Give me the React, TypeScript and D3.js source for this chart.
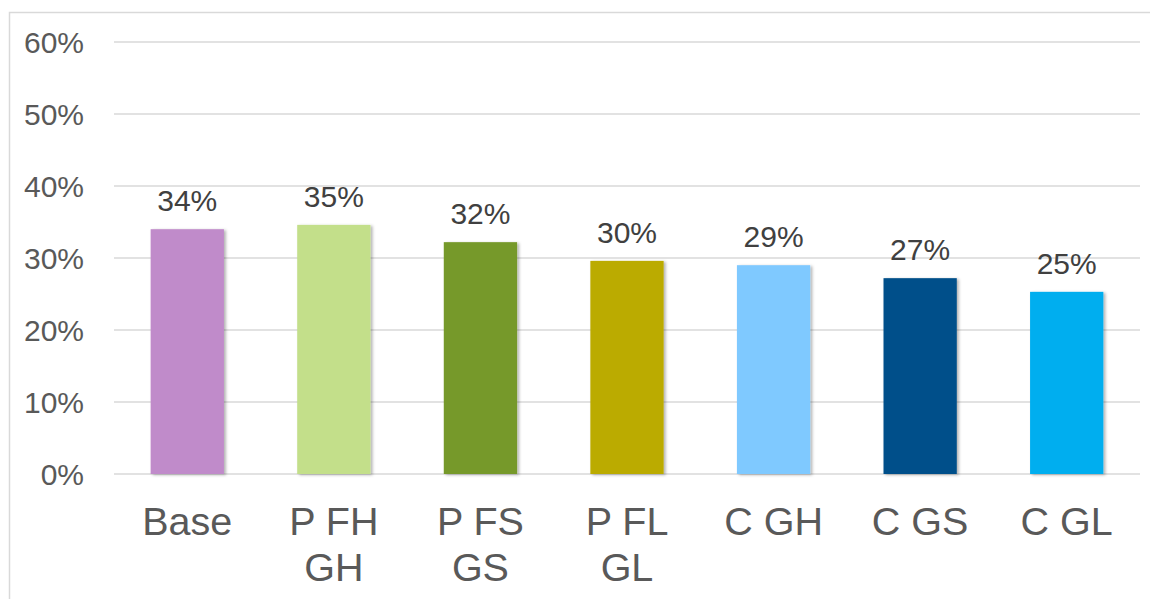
import React from "react";
import * as d3 from "d3";

const categories: string[][] = [
  ["Base"],
  ["P FH", "GH"],
  ["P FS", "GS"],
  ["P FL", "GL"],
  ["C GH"],
  ["C GS"],
  ["C GL"],
];
const values: number[] = [0.34, 0.346, 0.322, 0.296, 0.29, 0.272, 0.253];
const valueLabels: string[] = ["34%", "35%", "32%", "30%", "29%", "27%", "25%"];
const colors: string[] = ["#C08BCA", "#C3DF8A", "#76992C", "#BBAB00", "#7FC9FF", "#00508A", "#00AEEF"];
const yTicks: number[] = [0, 0.1, 0.2, 0.3, 0.4, 0.5, 0.6];

const W = 1150;
const H = 599;
const left = 114;
const right = 1140;
const top = 42;
const bottom = 474;

export default function App() {
  const keys = categories.map((c) => c.join(" "));
  const x = d3.scaleBand<string>().domain(keys).range([left, right]).paddingInner(0.5).paddingOuter(0.25);
  const y = d3.scaleLinear().domain([0, 0.6]).range([bottom, top]);
  const fmt = d3.format(".0%");

  return (
    <svg
      width={W}
      height={H}
      style={{ position: "absolute", left: 0, top: 0, display: "block" }}
      fontFamily="'Liberation Sans', Arial, sans-serif"
    >
      <defs>
        <filter id="sh" x="-20%" y="-20%" width="140%" height="140%">
          <feDropShadow dx="2" dy="1" stdDeviation="1.5" floodColor="#000" floodOpacity="0.3" />
        </filter>
      </defs>
      <rect x={0} y={0} width={W} height={H} fill="#fff" />
      <rect x={9.5} y={12.5} width={W + 20} height={H + 20} fill="none" stroke="#d9d9d9" strokeWidth={1.5} />
      {yTicks.map((t) => (
        <g key={t}>
          <line x1={left} x2={right} y1={y(t)} y2={y(t)} stroke="#d9d9d9" strokeWidth={1.5} />
          <text x={84} y={y(t)} dy="0.36em" textAnchor="end" fontSize={30} fill="#595959">
            {fmt(t)}
          </text>
        </g>
      ))}
      {values.map((v, i) => {
        const k = keys[i];
        const bx = x(k)!;
        return (
          <g key={k}>
            <rect
              x={bx}
              y={y(v)}
              width={x.bandwidth()}
              height={y(0) - y(v)}
              fill={colors[i]}
              filter="url(#sh)"
            />
            <text x={bx + x.bandwidth() / 2} y={y(v) - 18} textAnchor="middle" fontSize={30} fill="#404040">
              {valueLabels[i]}
            </text>
            {categories[i].map((line, j) => (
              <text
                key={j}
                x={bx + x.bandwidth() / 2}
                y={535 + j * 46}
                textAnchor="middle"
                fontSize={39.5}
                fill="#595959"
              >
                {line}
              </text>
            ))}
          </g>
        );
      })}
    </svg>
  );
}
